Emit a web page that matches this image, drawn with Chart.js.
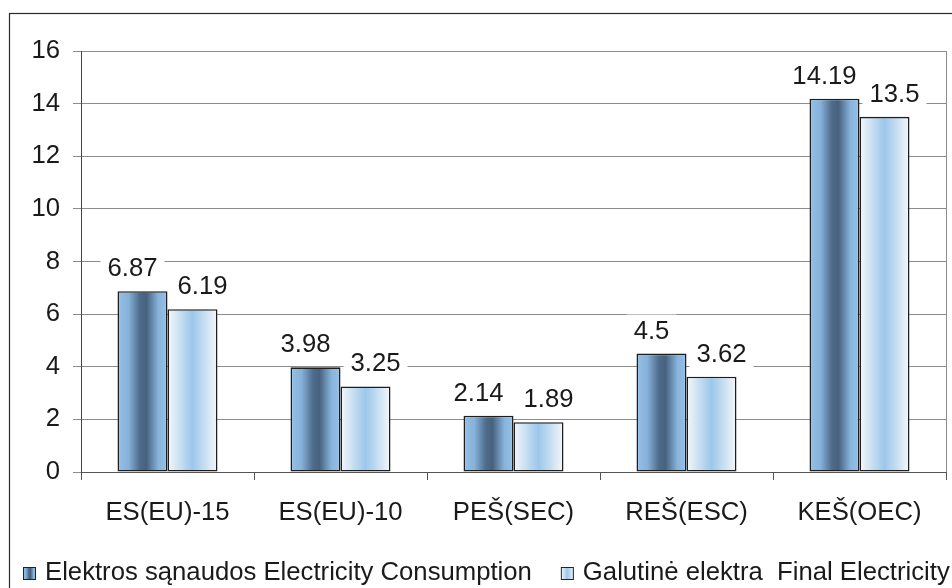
<!DOCTYPE html>
<html>
<head>
<meta charset="utf-8">
<script src="https://cdn.jsdelivr.net/npm/chart.js@4/dist/chart.umd.min.js"></script>
<style>
  html, body { margin: 0; padding: 0; background: #ffffff; }
  #wrap { width: 952px; height: 588px; position: relative; overflow: hidden; }
</style>
</head>
<body>
<div id="wrap"><canvas id="chart" width="952" height="588"></canvas></div>
<script>
// Chart data
const categories = ['ES(EU)-15', 'ES(EU)-10', 'PEŠ(SEC)', 'REŠ(ESC)', 'KEŠ(OEC)'];
const consumption = [6.87, 3.98, 2.14, 4.5, 14.19];
const finalElectricity = [6.19, 3.25, 1.89, 3.62, 13.5];
const seriesNames = ['Elektros sąnaudos Electricity Consumption', 'Galutinė elektra  Final Electricity'];
const yTicks = [0, 2, 4, 6, 8, 10, 12, 14, 16];

const FONT = '"Liberation Sans", Arial, Helvetica, sans-serif';
const FONT_SIZE = 25.7;
const CAT_PCT = 0.578;

// Horizontal gradient stops for each series (edge -> centre -> edge)
const gradientStops = [
  [[0, '#95c2e9'], [0.22, '#86b1d9'], [0.45, '#4e6b8a'], [0.58, '#47627f'], [0.82, '#88b4dc'], [1, '#95c2e9']],
  [[0, '#f6f8fb'], [0.28, '#c2dcf1'], [0.5, '#9cc7ea'], [0.72, '#c2dcf1'], [1, '#f6f8fb']]
];

function makeGradient(ctx2d, left, width, stops) {
  const g = ctx2d.createLinearGradient(left, 0, left + width, 0);
  stops.forEach(([p, c]) => g.addColorStop(p, c));
  return g;
}

function barFill(context) {
  const ds = context.datasetIndex;
  const chart = context.chart;
  const xs = chart.scales && chart.scales.x;
  if (context.dataIndex === undefined || !xs || !chart.chartArea) {
    return gradientStops[ds][2][1];
  }
  const catW = xs.width / categories.length;
  const groupW = catW * CAT_PCT;
  const barW = groupW / 2;
  const center = xs.getPixelForValue(context.dataIndex);
  const left = center - groupW / 2 + ds * barW;
  return makeGradient(chart.ctx, left, barW, gradientStops[ds]);
}

// Outer frame, right plot border, value labels and legend
const decorations = {
  id: 'decorations',
  beforeDraw(chart) {
    const c = chart.ctx;
    c.save();
    c.fillStyle = '#ffffff';
    c.fillRect(0, 0, chart.width, chart.height);
    c.strokeStyle = '#2a2a2a';
    c.lineWidth = 1.2;
    c.strokeRect(9.5, 13.5, chart.width + 20, chart.height + 20);
    c.restore();
  },
  beforeDatasetsDraw(chart) {
    const c = chart.ctx;
    const a = chart.chartArea;
    c.save();
    c.strokeStyle = '#8c8c8c';
    c.lineWidth = 1;
    c.beginPath();
    c.moveTo(Math.round(a.right) + 0.5, a.top);
    c.lineTo(Math.round(a.right) + 0.5, a.bottom);
    c.stroke();
    c.restore();
  },
  afterDatasetsDraw(chart) {
    const c = chart.ctx;
    c.save();
    c.font = FONT_SIZE + 'px ' + FONT;
    c.textAlign = 'center';
    c.textBaseline = 'alphabetic';
    chart.data.datasets.forEach((ds, di) => {
      const meta = chart.getDatasetMeta(di);
      meta.data.forEach((bar, i) => {
        const text = String(ds.data[i]);
        const x = bar.x + (di === 0 ? -10 : 10);
        const baseline = bar.y - 15;
        const w = c.measureText(text).width;
        c.fillStyle = '#ffffff';
        c.fillRect(x - w / 2 - 7, baseline - 24, w + 14, 30);
        c.fillStyle = '#1a1a1a';
        c.fillText(text, x, baseline);
      });
    });
    c.restore();
  },
  afterDraw(chart) {
    const c = chart.ctx;
    c.save();
    c.font = FONT_SIZE + 'px ' + FONT;
    c.textAlign = 'left';
    c.textBaseline = 'alphabetic';
    let x = 23;
    const boxY = 567, box = 13, baseline = 580;
    chart.data.datasets.forEach((ds, di) => {
      c.fillStyle = makeGradient(c, x, box, gradientStops[di]);
      c.fillRect(x, boxY, box, box);
      c.strokeStyle = '#222222';
      c.lineWidth = 1;
      c.strokeRect(x + 0.5, boxY + 0.5, box - 1, box - 1);
      c.fillStyle = '#1a1a1a';
      c.fillText(ds.label, x + 22, baseline);
      x += 22 + c.measureText(ds.label).width + 29;
    });
    c.restore();
  }
};

Chart.defaults.font.family = FONT;
Chart.defaults.font.size = FONT_SIZE;
Chart.defaults.color = '#1a1a1a';

new Chart(document.getElementById('chart'), {
  type: 'bar',
  data: {
    labels: categories,
    datasets: [
      {
        label: seriesNames[0],
        data: consumption,
        backgroundColor: barFill,
        borderColor: '#1e1e1e',
        borderWidth: 1.6,
        borderSkipped: false,
        categoryPercentage: CAT_PCT,
        barPercentage: 1.0
      },
      {
        label: seriesNames[1],
        data: finalElectricity,
        backgroundColor: barFill,
        borderColor: '#1e1e1e',
        borderWidth: 1.6,
        borderSkipped: false,
        categoryPercentage: CAT_PCT,
        barPercentage: 1.0
      }
    ]
  },
  options: {
    responsive: false,
    animation: false,
    devicePixelRatio: 1,
    layout: { padding: { left: 0, top: 51, right: 6, bottom: 0 } },
    plugins: {
      legend: { display: false },
      tooltip: { enabled: false },
      title: { display: false }
    },
    scales: {
      x: {
        offset: true,
        grid: {
          offset: true,
          drawOnChartArea: false,
          drawTicks: true,
          tickLength: 8,
          color: '#555555'
        },
        border: { display: true, color: '#555555', width: 1 },
        ticks: {
          padding: 17,
          color: '#1a1a1a',
          font: { size: FONT_SIZE, family: FONT },
          maxRotation: 0,
          autoSkip: false
        },
        afterFit(scale) { scale.height = 116; }
      },
      y: {
        min: 0,
        max: 16,
        afterBuildTicks(scale) { scale.ticks = yTicks.map(v => ({ value: v })); },
        grid: {
          color: '#8c8c8c',
          lineWidth: 1,
          tickLength: 8,
          drawTicks: true
        },
        border: { display: true, color: '#444444', width: 1 },
        ticks: {
          padding: 13,
          color: '#1a1a1a',
          font: { size: FONT_SIZE, family: FONT }
        },
        afterFit(scale) { scale.width = 81; }
      }
    }
  },
  plugins: [decorations]
});
</script>
</body>
</html>
